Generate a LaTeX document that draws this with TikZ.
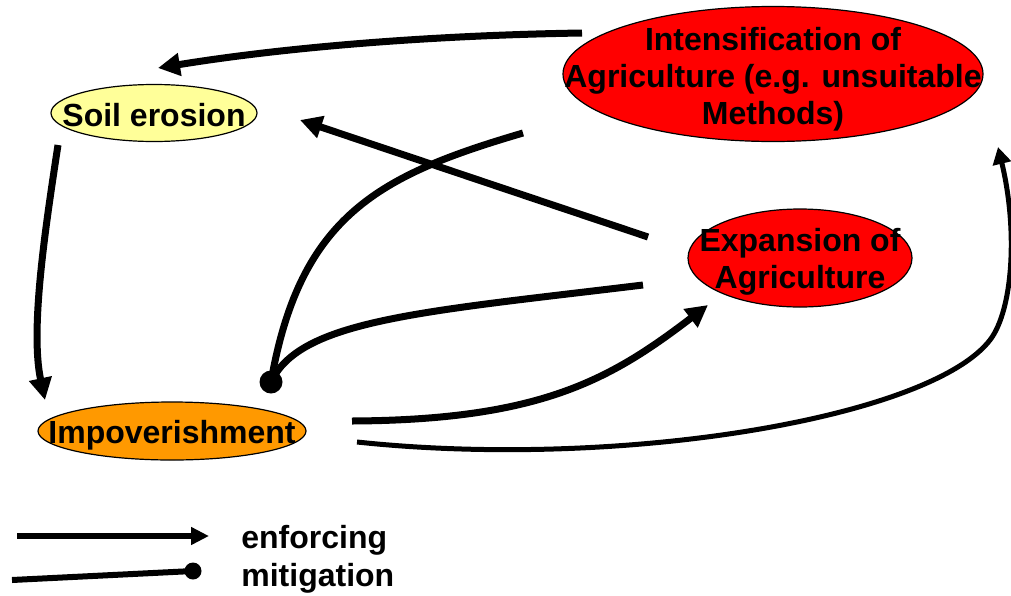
\documentclass[tikz,border=0pt]{standalone}
\usepackage{fontspec}
\setmainfont{Liberation Sans}
\usetikzlibrary{shapes.geometric,arrows.meta,calc}

\definecolor{soilyellow}{RGB}{255,255,153}
\definecolor{impor}{RGB}{255,153,0}
\definecolor{agrred}{RGB}{255,0,0}

\begin{document}
\begin{tikzpicture}[x=0.5pt,y=-0.5pt]
	\tikzstyle{blob} = [draw, ellipse, line width=0.6pt, inner sep=0pt]
	\tikzstyle{lbl} = [inner sep=0pt, align=center, font=\fontsize{16}{18.5}\selectfont\bfseries]
	\tikzstyle{enforce} = [-{Triangle[length=11pt,width=11pt]}, line width=3.5pt]
	\tikzstyle{enforcethin} = [-{Triangle[length=8.5pt,width=9pt]}, line width=2.5pt]
	\tikzstyle{mitigate} = [line width=3.5pt]
	\tikzstyle{mitdot} = [circle, fill=black, inner sep=0pt, minimum size=11.5pt]
	\tikzstyle{legenf} = [-{Triangle[length=9pt,width=8.5pt]}, line width=3pt]
	\tikzstyle{legdot} = [circle, fill=black, inner sep=0pt, minimum size=8.5pt]

	\useasboundingbox (0,0) rectangle (1011,595);

	% NODES %
	\node[blob, fill=soilyellow, minimum width=103pt, minimum height=28.5pt] (soil) at (154,113) {};
	\node[blob, fill=impor, minimum width=134pt, minimum height=29pt] (imp) at (172,431) {};
	\node[blob, fill=agrred, minimum width=210pt, minimum height=67.5pt] (int) at (773,74) {};
	\node[blob, fill=agrred, minimum width=112pt, minimum height=49pt] (exp) at (800,258) {};

	\node[lbl, yshift=-1pt] (soiltxt) at (soil) {Soil erosion};
	\node[lbl, yshift=-2pt] (imptxt) at (imp) {Impoverishment};
	\node[lbl, yshift=-2.5pt] (inttxt) at (int) {Intensification of\\Agriculture (e.g. unsuitable\\Methods)};
	\node[lbl, yshift=-2pt] (exptxt) at (exp) {Expansion of\\Agriculture};

	\node[mitdot] (mit) at (271,382) {};

	% EDGES %
	\draw[enforce] ($(int)+(-191,-41)$) .. controls (450,35) and (300,45) .. ($(soil)+(4,-45)$);
	\draw[enforce] ($(exp)+(-152,-21)$) -- ($(soil)+(146,7)$);
	\draw[enforce] ($(soil)+(-96,32)$) .. controls (45,230) and (30,330) .. ($(imp)+(-127,-31)$);
	\draw[mitigate] ($(int)+(-250,59)$) .. controls (380,175) and (300,215) .. (mit.center);
	\draw[mitigate] ($(exp)+(-157,27)$) .. controls (420,312) and (300,320) .. (mit.center);
	\draw[enforce] ($(imp)+(180,-10)$) .. controls (540,420) and (610,380) .. ($(exp)+(-92,47)$);
	\draw[enforcethin] ($(imp)+(185,11)$) .. controls (620,470) and (930,418) .. (990,340)
		.. controls (1013,310) and (1018,230) .. ($(int)+(225,73)$);

	% LEGEND %
	\coordinate (enfa) at (17,536);
	\coordinate (enfb) at (209,536);
	\draw[legenf] (enfa) -- (enfb);
	\node[lbl, anchor=base west] (enftxt) at (241,548) {enforcing};
	\coordinate (mita) at (12,580);
	\node[legdot] (mitb) at (193,571) {};
	\draw[line width=3pt] (mita) -- (mitb.center);
	\node[lbl, anchor=base west] (mittxt) at (241,586) {mitigation};
\end{tikzpicture}
\end{document}
